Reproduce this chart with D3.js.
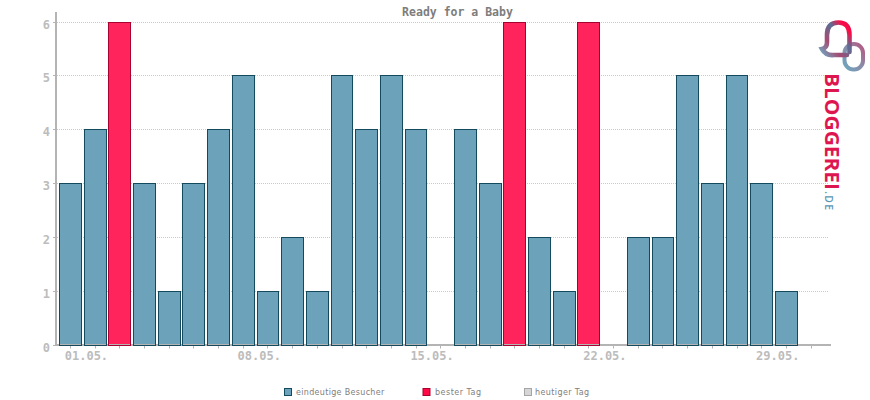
<!DOCTYPE html>
<html><head><meta charset="utf-8">
<script src="https://cdn.jsdelivr.net/npm/d3@7"></script>
<style>html,body{margin:0;padding:0;background:#fff}svg{display:block}</style>
</head><body><svg id="c" width="870" height="400"></svg>
<script>
const title = "Ready for a Baby";
const days = d3.range(1, 32);
const visitors = [3,4,6,3,1,3,4,5,1,2,1,5,4,5,4,0,4,3,6,2,1,6,0,2,2,5,3,5,3,1,0];
const bestDays = [3,19,22];
const yTicks = [0,1,2,3,4,5,6];
const xLabels = {1:"01.05.",8:"08.05.",15:"15.05.",22:"22.05.",29:"29.05."};
const legendItems = ["eindeutige Besucher","bester Tag","heutiger Tag"];
const legendFill = ["#6ca2ba","#ff0a45","#d6d6d6"];
const legendStroke = ["#134a5e","#a80030","#a5a5a5"];

const svg = d3.select("#c");
const x = d3.scaleBand().domain(days).range([57.52,824.02]).paddingInner(0.075).paddingOuter(0.06);
const y = d3.scaleLinear().domain([0,6]).range([345,22]);
const gray = "#b4b4b4", mono = "'DejaVu Sans Mono','Liberation Mono',monospace";
const cx = d => x(d)+x.bandwidth()/2;
const py = v => Math.floor(y(v))+.5;
const L = d => Math.round(x(d));
const R = d => Math.round(x(d)+x.bandwidth());
const edge = d => bestDays.includes(d)?"#a80030":"#134a5e";

// grid
svg.append("g").selectAll("line").data(yTicks.slice(1)).join("line")
  .attr("x1",57).attr("x2",829).attr("y1",py).attr("y2",py)
  .attr("stroke","#cacaca").attr("stroke-dasharray","1 1");

// axes
svg.append("rect").attr("x",55).attr("y",12).attr("width",2).attr("height",334).attr("fill",gray);
svg.append("rect").attr("x",55).attr("y",344).attr("width",776).attr("height",2).attr("fill",gray);
svg.append("g").selectAll("line").data(yTicks).join("line")
  .attr("x1",53).attr("x2",55).attr("y1",py).attr("y2",py).attr("stroke",gray);
svg.append("g").selectAll("line").data(days).join("line")
  .attr("x1",d=>Math.floor(cx(d))+.5).attr("x2",d=>Math.floor(cx(d))+.5).attr("y1",346).attr("y2",348.5)
  .attr("stroke",gray);
svg.append("g").selectAll("text").data(yTicks).join("text")
  .attr("x",50).attr("y",d=>Math.floor(y(d))+7).attr("text-anchor","end")
  .attr("font-family",mono).attr("font-size",12).attr("font-weight","bold").attr("fill","#bcbcbc").text(d=>d);
svg.append("g").selectAll("text").data(days.filter(d=>xLabels[d])).join("text")
  .attr("x",d=>cx(d)+16).attr("y",360).attr("text-anchor","middle")
  .attr("font-family",mono).attr("font-size",12).attr("font-weight","bold").attr("fill","#bcbcbc").text(d=>xLabels[d]);

// bars
const vals = days.map((d,i)=>({d,v:visitors[i]})).filter(o=>o.v>0);
svg.append("g").selectAll("rect").data(vals).join("rect")
  .attr("x",o=>L(o.d)+.5).attr("width",o=>R(o.d)-L(o.d)-1)
  .attr("y",o=>py(o.v)).attr("height",o=>345.5-py(o.v))
  .attr("fill",o=>bestDays.includes(o.d)?"#ff245c":"#6ca2ba")
  .attr("stroke",o=>edge(o.d));
svg.append("rect").attr("x",57).attr("y",344).attr("width",770).attr("height",1).attr("fill",gray);
svg.append("g").selectAll("rect").data(vals).join("rect")
  .attr("x",o=>L(o.d)).attr("width",1).attr("y",344).attr("height",2).attr("fill",o=>edge(o.d));
svg.append("g").selectAll("rect").data(vals).join("rect")
  .attr("x",o=>R(o.d)-1).attr("width",1).attr("y",344).attr("height",2).attr("fill",o=>edge(o.d));

// title
svg.append("text").attr("x",457.5).attr("y",16).attr("text-anchor","middle")
  .attr("font-family",mono).attr("font-size",11.5).attr("font-weight","bold").attr("fill","#7d7d7d").text(title);

// legend
const legX = [284,422.5,524], legT = [296,435,535], legS = [.32,.5,.4];
legendItems.forEach((t,i)=>{
  svg.append("rect").attr("x",legX[i]+.5).attr("y",388.5).attr("width",7).attr("height",7)
    .attr("fill",legendFill[i]).attr("stroke",legendStroke[i]);
  svg.append("text").attr("x",legT[i]).attr("y",395).attr("font-family","'DejaVu Sans',sans-serif")
    .attr("font-size",8).attr("letter-spacing",legS[i]).attr("fill","#808080").text(t);
});

// logo
const defs = svg.append("defs");
const g2 = defs.append("linearGradient").attr("id","lg2").attr("x1","0").attr("y1","1").attr("x2","1").attr("y2","0");
[[0,"#6fa6bf"],[.32,"#a54a72"],[.62,"#5a6f95"],[.85,"#ff0a45"],[1,"#e0104c"]].forEach(s=>g2.append("stop").attr("offset",s[0]).attr("stop-color",s[1]));
const g3 = defs.append("linearGradient").attr("id","lg3").attr("x1","0").attr("y1","1").attr("x2","1").attr("y2","0");
[[0,"#6fa6bf"],[.55,"#8a8aa8"],[1,"#b8557f"]].forEach(s=>g3.append("stop").attr("offset",s[0]).attr("stop-color",s[1]));
const g4 = defs.append("linearGradient").attr("id","lg4").attr("gradientUnits","userSpaceOnUse").attr("x1",0).attr("y1",72).attr("x2",0).attr("y2",192);
[[0,"#dd1650"],[.45,"#b82c62"],[.75,"#71608c"],[1,"#4f7ea3"]].forEach(s=>g4.append("stop").attr("offset",s[0]).attr("stop-color",s[1]));
svg.append("rect").attr("x",844.5).attr("y",44).attr("width",18.5).attr("height",25.5).attr("rx",9)
  .attr("fill","none").attr("stroke","url(#lg3)").attr("stroke-width",4);
svg.append("path").attr("d","M849.5 52 V35 Q849.5 22.5 838.5 22.5 Q827 22.5 827 35 V42 Q827 48 822 49 Q826 56 834 55 H847")
  .attr("fill","none").attr("stroke","url(#lg2)").attr("stroke-width",4.6).attr("stroke-linecap","round");
svg.append("text").attr("transform","translate(825,73) rotate(90)")
  .attr("font-family","'Open Sans','DejaVu Sans',sans-serif").attr("font-weight","bold").attr("font-size",19.5)
  .attr("textLength",117).attr("lengthAdjust","spacingAndGlyphs").attr("fill","url(#lg4)").text("BLOGGEREI");
svg.append("text").attr("transform","translate(825,191) rotate(90)")
  .attr("font-family","'Open Sans','DejaVu Sans',sans-serif").attr("font-size",10.5).attr("font-weight",600)
  .attr("textLength",19).attr("fill","#5a97b5").text(".DE");
</script></body></html>
